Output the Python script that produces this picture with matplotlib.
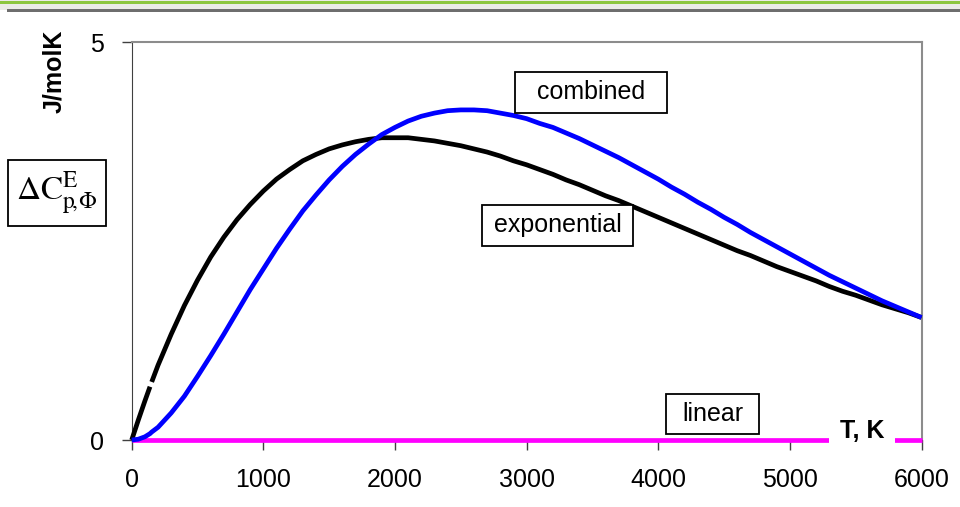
import numpy as np
import matplotlib
matplotlib.use("Agg")
import matplotlib.pyplot as plt
from matplotlib.patches import Rectangle

plt.rcParams["font.family"] = ["Liberation Sans", "DejaVu Sans"]
plt.rcParams["mathtext.fontset"] = "stix"

# values (T in K, heat capacity in J/molK)
temps = [0, 50, 100, 139, 152, 200, 300, 400, 500, 600, 700, 800, 900, 1000,
         1100, 1200, 1300, 1400, 1500, 1600, 1700, 1800, 1900, 2000, 2100, 2200,
         2300, 2400, 2500, 2600, 2700, 2800, 2900, 3000, 3100, 3200, 3300, 3400,
         3500, 3600, 3700, 3800, 3900, 4000, 4100, 4200, 4300, 4400, 4500, 4600,
         4700, 4800, 4900, 5000, 5100, 5200, 5300, 5400, 5500, 5600, 5700, 5800,
         5900, 6000]
exponential = [0.0, 0.25, 0.49, 0.67, 0.73, 0.94, 1.33, 1.69, 2.01, 2.30, 2.55,
               2.77, 2.96, 3.13, 3.28, 3.40, 3.51, 3.59, 3.66, 3.71, 3.75, 3.78,
               3.80, 3.80, 3.80, 3.78, 3.76, 3.73, 3.70, 3.66, 3.62, 3.57, 3.51,
               3.46, 3.40, 3.34, 3.27, 3.21, 3.14, 3.07, 3.01, 2.94, 2.87, 2.80,
               2.73, 2.66, 2.59, 2.52, 2.45, 2.38, 2.32, 2.25, 2.18, 2.12, 2.06,
               2.00, 1.93, 1.87, 1.82, 1.76, 1.70, 1.65, 1.60, 1.54]
combined = [0.0, 0.01, 0.04, 0.08, 0.10, 0.16, 0.34, 0.55, 0.80, 1.06, 1.33,
            1.61, 1.89, 2.15, 2.41, 2.65, 2.88, 3.08, 3.27, 3.44, 3.59, 3.72,
            3.84, 3.93, 4.01, 4.07, 4.11, 4.14, 4.15, 4.15, 4.14, 4.11, 4.08,
            4.04, 3.98, 3.93, 3.86, 3.79, 3.71, 3.63, 3.55, 3.46, 3.37, 3.28,
            3.18, 3.09, 2.99, 2.90, 2.80, 2.71, 2.61, 2.52, 2.43, 2.34, 2.25,
            2.16, 2.07, 1.99, 1.91, 1.83, 1.75, 1.68, 1.61, 1.54]
linear = [0.0] * len(temps)

# the black curve has a small break between these two temperatures
gap_after = 139
gap_before = 152

x_ticks = [0, 1000, 2000, 3000, 4000, 5000, 6000]
y_ticks = [0, 5]

W, H = 960, 507


def fx(px):
    return px / W


def fy(py):
    return 1 - py / H


def main() -> None:
    fig = plt.figure(figsize=(9.6, 5.07), dpi=100)

    # banner strip at the top
    fig.add_artist(Rectangle((0, fy(10)), 1, 10 / H, transform=fig.transFigure,
                             facecolor="#ebebe7", edgecolor="none"))
    fig.add_artist(Rectangle((0, fy(3.5)), 1, 2.5 / H, transform=fig.transFigure,
                             facecolor="#8cc63e", edgecolor="none"))
    fig.add_artist(Rectangle((fx(7), fy(11.5)), 1, 2.5 / H, transform=fig.transFigure,
                             facecolor="#6e6e6e", edgecolor="none"))

    ax = fig.add_axes([fx(131.7), fy(440), fx(921.5) - fx(131.7), fy(42.3) - fy(440)])

    t = np.array(temps, dtype=float)
    ex = np.array(exponential, dtype=float)
    first = t <= gap_after
    second = t >= gap_before
    lw = 3.4
    ax.plot(t, linear, color="#ff00ff", lw=lw, solid_capstyle="butt", zorder=3,
            clip_on=False)
    ax.plot(t[first], ex[first], color="black", lw=lw, solid_capstyle="butt",
            zorder=4, clip_on=False)
    ax.plot(t[second], ex[second], color="black", lw=lw, solid_capstyle="butt",
            zorder=4)
    ax.plot(t, combined, color="#0000ff", lw=lw, solid_capstyle="butt", zorder=5,
            clip_on=False)

    ax.set_xlim(0, 6000)
    ax.set_ylim(0, 5)
    ax.set_xticks(x_ticks)
    ax.set_yticks(y_ticks)
    ax.tick_params(axis="both", labelsize=18, length=7, width=1, color="#404040",
                   direction="out", pad=13)
    for side in ("top", "right"):
        ax.spines[side].set_color("#8c8c8c")
        ax.spines[side].set_linewidth(1.5)
    ax.spines["left"].set_color("#404040")
    ax.spines["bottom"].set_color("#404040")
    for s in ax.spines.values():
        s.set_zorder(2)

    # y unit, rotated
    fig.text(fx(54), fy(71.5), "J/molK", rotation=90, ha="center", va="center",
             fontsize=18, fontweight="bold")

    def boxed(x0, y0, x1, y1, label, **kw):
        fig.add_artist(Rectangle((fx(x0), fy(y1)), fx(x1) - fx(x0), fy(y0) - fy(y1),
                                 transform=fig.transFigure, facecolor="white",
                                 edgecolor="black", lw=1.3, zorder=10))
        fig.text(fx((x0 + x1) / 2), fy((y0 + y1) / 2), label, ha="center",
                 va="center", zorder=11, **kw)

    boxed(8, 160, 106, 226,
          r"$\Delta\mathrm{C}^{\mathrm{E}}_{\mathrm{p}\!,\!\Phi}$", fontsize=24)
    boxed(515, 72, 667, 113, "combined", fontsize=18)
    boxed(482, 205, 633, 246, "exponential", fontsize=18)
    boxed(666, 394, 759, 434, "linear", fontsize=18)

    # axis title sits on a white patch over the pink line
    fig.add_artist(Rectangle((fx(829), fy(446)), fx(895) - fx(829), 28 / H,
                             transform=fig.transFigure, facecolor="white",
                             edgecolor="none", zorder=10))
    fig.text(fx(862), fy(431), "T, K", ha="center", va="center", fontsize=18,
             fontweight="bold", zorder=11)

    fig.savefig("out.png", dpi=100)


if __name__ == "__main__":
    main()
